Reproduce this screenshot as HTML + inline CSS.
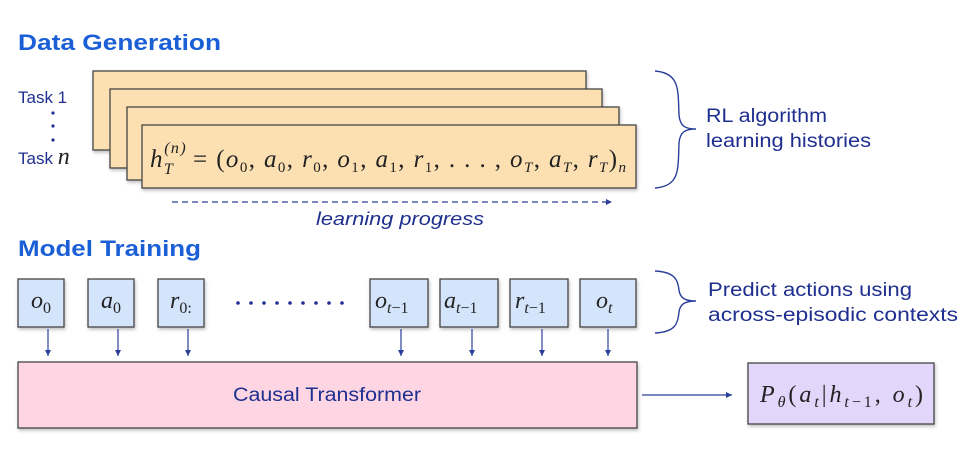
<!DOCTYPE html>
<html><head><meta charset="utf-8"><style>
html,body{margin:0;padding:0;background:#fff;}
svg{display:block;}
.s{font-family:"Liberation Sans",sans-serif;fill:#1f2f8f;}
.m{font-family:"Liberation Serif",serif;font-style:italic;fill:#222;}
</style></head><body>
<svg width="972" height="456" viewBox="0 0 972 456" xmlns="http://www.w3.org/2000/svg">
<defs>
<marker id="ah" markerWidth="8" markerHeight="8" refX="6" refY="3" orient="auto" markerUnits="userSpaceOnUse"><path d="M0,0 L6,3 L0,6 Z" fill="#2a3f9a"/></marker>
<filter id="sh" x="-5%" y="-5%" width="110%" height="120%"><feDropShadow dx="1" dy="2" stdDeviation="1.5" flood-color="#000" flood-opacity="0.25"/></filter>
</defs>
<text x="18" y="50" font-family="Liberation Sans,sans-serif" font-weight="bold" font-size="22" fill="#1a5fd6" textLength="203" lengthAdjust="spacingAndGlyphs">Data Generation</text>
<text x="18" y="103" class="s" font-size="17">Task 1</text>
<circle cx="53" cy="113" r="1.6" fill="#1f2f8f"/><circle cx="53" cy="126" r="1.6" fill="#1f2f8f"/><circle cx="53" cy="140" r="1.6" fill="#1f2f8f"/>
<text x="18" y="164" class="s" font-size="17">Task <tspan class="m" font-size="24" fill="#1f2f8f">n</tspan></text>
<g fill="#fde0b2" stroke="#444" stroke-width="1.3" filter="url(#sh)">
<rect x="93" y="71" width="493" height="79"/>
<rect x="110" y="89" width="492" height="79"/>
<rect x="127" y="107" width="492" height="73"/>
<rect x="142" y="125" width="494" height="63"/>
</g>
<text x="150" y="167" class="m" font-size="25" textLength="476" lengthAdjust="spacing">h<tspan font-size="16" dy="7">T</tspan><tspan font-size="16" dx="-10" dy="-21">(n)</tspan><tspan dy="14" dx="6" font-style="normal">= (</tspan>o<tspan font-size="15" dy="5" font-style="normal">0</tspan><tspan dy="-5" font-style="normal">, </tspan>a<tspan font-size="15" dy="5" font-style="normal">0</tspan><tspan dy="-5" font-style="normal">, </tspan>r<tspan font-size="15" dy="5" font-style="normal">0</tspan><tspan dy="-5" font-style="normal">, </tspan>o<tspan font-size="15" dy="5" font-style="normal">1</tspan><tspan dy="-5" font-style="normal">, </tspan>a<tspan font-size="15" dy="5" font-style="normal">1</tspan><tspan dy="-5" font-style="normal">, </tspan>r<tspan font-size="15" dy="5" font-style="normal">1</tspan><tspan dy="-5" font-style="normal">, . . . , </tspan>o<tspan font-size="15" dy="5">T</tspan><tspan dy="-5" font-style="normal">, </tspan>a<tspan font-size="15" dy="5">T</tspan><tspan dy="-5" font-style="normal">, </tspan>r<tspan font-size="15" dy="5">T</tspan><tspan dy="-5" font-style="normal">)</tspan><tspan font-size="15" dy="5">n</tspan></text>
<line x1="172" y1="202" x2="612" y2="202" stroke="#2a3f9a" stroke-width="1.3" stroke-dasharray="6,4" marker-end="url(#ah)"/>
<text x="316" y="225" class="s" font-size="18" font-style="italic" textLength="168" lengthAdjust="spacingAndGlyphs">learning progress</text>
<path d="M655,71 C680,73 678,90 679,115 C680,126 685,129 696,129 C685,129 680,132 679,143 C678,170 680,186 655,188" fill="none" stroke="#2a3f9a" stroke-width="1.4"/>
<text x="706" y="122" class="s" font-size="19" textLength="121" lengthAdjust="spacingAndGlyphs">RL algorithm</text>
<text x="706" y="147" class="s" font-size="19" textLength="165" lengthAdjust="spacingAndGlyphs">learning histories</text>

<text x="18" y="256" font-family="Liberation Sans,sans-serif" font-weight="bold" font-size="22" fill="#1a5fd6" textLength="183" lengthAdjust="spacingAndGlyphs">Model Training</text>
<g fill="#d4e4fb" stroke="#444" stroke-width="1.3" filter="url(#sh)">
<rect x="18" y="279" width="46" height="48"/>
<rect x="88" y="279" width="46" height="48"/>
<rect x="158" y="279" width="46" height="48"/>
<rect x="370" y="279" width="58" height="48"/>
<rect x="440" y="279" width="58" height="48"/>
<rect x="510" y="279" width="58" height="48"/>
<rect x="580" y="279" width="56" height="48"/>
</g>
<g class="m" font-size="24">
<text x="31" y="308">o<tspan font-size="16" dy="5" font-style="normal">0</tspan></text>
<text x="101" y="308">a<tspan font-size="16" dy="5" font-style="normal">0</tspan></text>
<text x="170" y="308">r<tspan font-size="16" dy="5" font-style="normal">0:</tspan></text>
<text x="375" y="308">o<tspan font-size="16" dy="5">t</tspan><tspan font-size="16" font-style="normal">−1</tspan></text>
<text x="444" y="308">a<tspan font-size="16" dy="5">t</tspan><tspan font-size="16" font-style="normal">−1</tspan></text>
<text x="515" y="308">r<tspan font-size="16" dy="5">t</tspan><tspan font-size="16" font-style="normal">−1</tspan></text>
<text x="596" y="308">o<tspan font-size="16" dy="5">t</tspan></text>
</g>
<g fill="#1f2f8f"><circle cx="238" cy="303" r="1.8"/><circle cx="251" cy="303" r="1.8"/><circle cx="264" cy="303" r="1.8"/><circle cx="277" cy="303" r="1.8"/><circle cx="290" cy="303" r="1.8"/><circle cx="303" cy="303" r="1.8"/><circle cx="316" cy="303" r="1.8"/><circle cx="329" cy="303" r="1.8"/><circle cx="342" cy="303" r="1.8"/></g>
<g stroke="#2a3f9a" stroke-width="1.2" marker-end="url(#ah)">
<line x1="48" y1="329" x2="48" y2="356"/><line x1="118" y1="329" x2="118" y2="356"/><line x1="188" y1="329" x2="188" y2="356"/>
<line x1="401" y1="329" x2="401" y2="356"/><line x1="472" y1="329" x2="472" y2="356"/><line x1="542" y1="329" x2="542" y2="356"/><line x1="608" y1="329" x2="608" y2="356"/>
</g>
<rect x="18" y="362" width="619" height="66" fill="#fdd5e3" stroke="#444" stroke-width="1.3" filter="url(#sh)"/>
<text x="233" y="401" class="s" font-size="19" textLength="188" lengthAdjust="spacingAndGlyphs">Causal Transformer</text>
<line x1="642" y1="395" x2="732" y2="395" stroke="#2a3f9a" stroke-width="1.2" marker-end="url(#ah)"/>
<rect x="748" y="363" width="186" height="61" fill="#e3d6fb" stroke="#444" stroke-width="1.3" filter="url(#sh)"/>
<text x="760" y="402" class="m" font-size="24" textLength="163" lengthAdjust="spacing">P<tspan font-size="16" dy="5">θ</tspan><tspan dy="-5" font-style="normal">(</tspan>a<tspan font-size="16" dy="5">t</tspan><tspan dy="-5" font-style="normal">|</tspan>h<tspan font-size="16" dy="5">t</tspan><tspan font-size="16" font-style="normal">−1</tspan><tspan dy="-5" font-style="normal">, </tspan>o<tspan font-size="16" dy="5">t</tspan><tspan dy="-5" font-style="normal">)</tspan></text>
<path d="M655,271 C675,272 678,280 679,290 C680,298 685,301 696,301 C685,301 680,304 679,312 C678,324 675,332 655,333" fill="none" stroke="#2a3f9a" stroke-width="1.4"/>
<text x="708" y="296" class="s" font-size="19" textLength="204" lengthAdjust="spacingAndGlyphs">Predict actions using</text>
<text x="708" y="321" class="s" font-size="19" textLength="250" lengthAdjust="spacingAndGlyphs">across-episodic contexts</text>
</svg>
</body></html>
